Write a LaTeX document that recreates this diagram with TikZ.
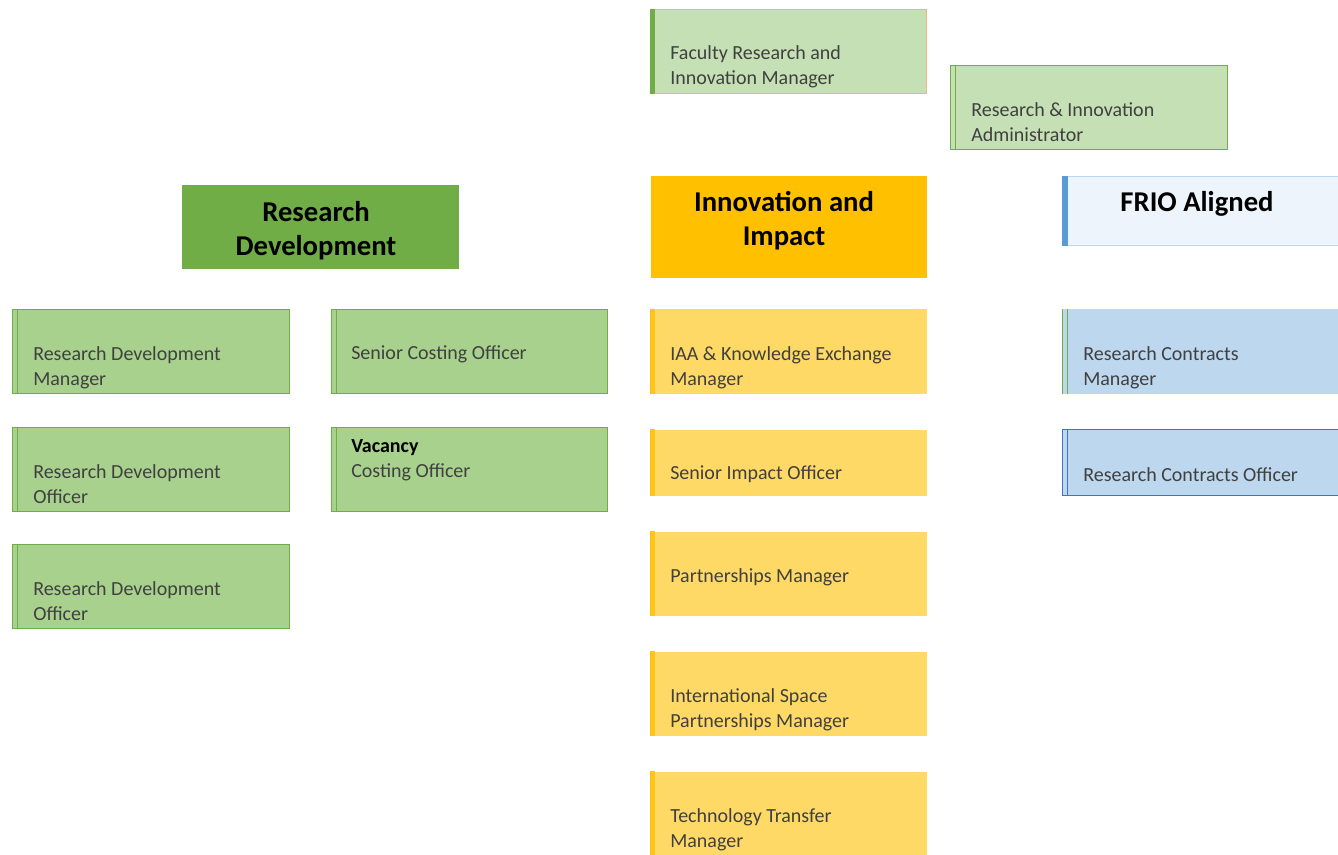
\documentclass[tikz,border=0pt]{standalone}
\usepackage{fontspec}
\setmainfont{Carlito}
\definecolor{lgfill}{HTML}{C5E0B4}
\definecolor{rdfill}{HTML}{A9D18E}
\definecolor{gborder}{HTML}{70AD47}
\definecolor{oborder}{HTML}{F4B183}
\definecolor{yfill}{HTML}{FFD966}
\definecolor{ystrip}{HTML}{FFC000}
\definecolor{friofill}{HTML}{EDF4FB}
\definecolor{frioborder}{HTML}{BDD7EE}
\definecolor{friobar}{HTML}{5B9BD5}
\definecolor{bfill}{HTML}{BDD7EE}
\definecolor{bborder}{HTML}{4472C4}
\definecolor{txtgray}{HTML}{404040}
\tikzset{
  boxbase/.style={anchor=north west, inner sep=0pt, line width=0.75pt},
  boxtxt/.style={anchor=west, align=left, inner sep=0pt, text=txtgray,
    font=\fontsize{15}{18.75}\selectfont},
  headtxt/.style={align=center, inner sep=0pt, text=black,
    font=\fontsize{21.5}{25.5}\selectfont\bfseries},
  greenbox/.style={boxbase, fill=rdfill, draw=gborder},
  lgbox/.style={boxbase, fill=lgfill, draw=gborder},
  facbox/.style={boxbase, fill=lgfill, draw=oborder},
  yellowbox/.style={boxbase, fill=yfill, draw=none},
  bluebox/.style={boxbase, fill=bfill, draw=bborder},
  rcmbox/.style={boxbase, fill=bfill, draw=lgfill},
  friobox/.style={boxbase, fill=friofill, draw=frioborder},
}
% name, x, y, w, h, style
\newcommand\orgbox[6]{%
  \node[#6, minimum width=#4*0.75pt, minimum height=#5*0.75pt] (#1) at (#2,#3) {};}
\newcommand\stripline[2]{% name, colour
  \draw[#2, line width=0.75pt] ([xshift=3.75pt]#1.north west) -- ([xshift=3.75pt]#1.south west);}
\begin{document}
\begin{tikzpicture}[x=0.75pt,y=-0.75pt]
\clip (0,0) rectangle (1338,855);
\fill[white] (0,0) rectangle (1338,855);

% ---- top boxes
\orgbox{fac}{650}{9}{276}{84}{facbox}
\fill[gborder] (fac.north west) rectangle ([xshift=3.75pt]fac.south west);
\node[boxtxt] (facT) at (670,66.5) {Faculty Research and\\Innovation Manager};

\orgbox{adm}{950}{65}{277}{84}{lgbox}
\stripline{adm}{gborder}
\node[boxtxt] (admT) at (971,122.5) {Research \& Innovation\\Administrator};

% ---- headers
\orgbox{rdh}{181}{185}{277}{84}{boxbase, fill=gborder, draw=none}
\node[headtxt] (rdhT) at (316,230.5) {Research\\Development};

\orgbox{iih}{650}{176}{276}{102}{boxbase, fill=ystrip, draw=none}
\node[headtxt] (iihT) at (784,220.5) {Innovation and\\Impact};

\orgbox{frio}{1062}{176}{284}{69}{friobox}
\fill[friobar] (frio.north west) rectangle ([xshift=4.5pt]frio.south west);
\node[headtxt] (frioT) at (1197,203.5) {FRIO Aligned};

% ---- Research Development column
\orgbox{rdm}{12}{309}{277}{84}{greenbox}
\stripline{rdm}{gborder}
\node[boxtxt] (rdmT) at (33,367.5) {Research Development\\Manager};

\orgbox{rdo}{12}{427}{277}{84}{greenbox}
\stripline{rdo}{gborder}
\node[boxtxt] (rdoT) at (33,484.5) {Research Development\\Officer};

\orgbox{rdob}{12}{544}{277}{84}{greenbox}
\stripline{rdob}{gborder}
\node[boxtxt] (rdobT) at (33,601.5) {Research Development\\Officer};

\orgbox{sco}{331}{309}{276}{84}{greenbox}
\stripline{sco}{gborder}
\node[boxtxt] (scoT) at (351,354.5) {Senior Costing Officer};

\orgbox{vac}{331}{427}{276}{84}{greenbox}
\stripline{vac}{gborder}
\node[boxtxt] (vacT) at (351,460.5) {\textcolor{black}{\bfseries Vacancy}\\Costing Officer};

% ---- Innovation and Impact column
\newcommand\ybox[5]{% name, y, h, texty, text
  \orgbox{#1}{650}{#2}{276}{#3}{yellowbox}
  \fill[ystrip!75!yfill] (#1.north west) rectangle ([xshift=3.75pt]#1.south west);
  \draw[ystrip, line width=0.6pt] (#1.north west) -- (#1.south west);
  \node[boxtxt] (#1T) at (670,#4) {#5};}
\ybox{iaa}{309}{84}{367.5}{IAA \& Knowledge Exchange\\Manager}
\ybox{sio}{429}{66}{474.5}{Senior Impact Officer}
\ybox{pm}{531}{84}{577.5}{Partnerships Manager}
\ybox{isp}{651}{84}{709.5}{International Space\\Partnerships Manager}
\ybox{ttm}{771}{95}{829.5}{Technology Transfer\\Manager}

% ---- FRIO column
\orgbox{rcm}{1062}{309}{284}{84}{rcmbox}
\draw[gborder, line width=0.75pt] (rcm.north west) -- (rcm.south west);
\stripline{rcm}{gborder}
\node[boxtxt] (rcmT) at (1083,367.5) {Research Contracts\\Manager};

\orgbox{rco}{1062}{429}{284}{66}{bluebox}
\stripline{rco}{bborder}
\node[boxtxt] (rcoT) at (1083,474.5) {Research Contracts Officer};
\end{tikzpicture}
\end{document}
